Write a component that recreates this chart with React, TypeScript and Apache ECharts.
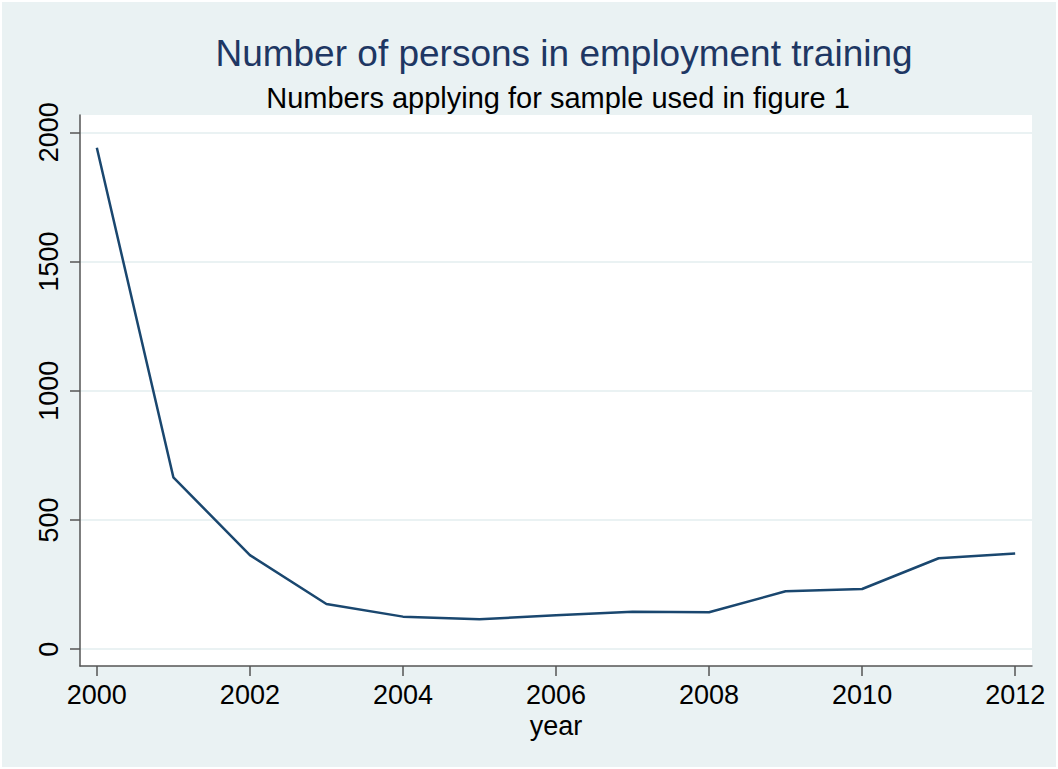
import React, { useEffect, useRef } from "react";
import * as echarts from "echarts";

const years = [2000, 2001, 2002, 2003, 2004, 2005, 2006, 2007, 2008, 2009, 2010, 2011, 2012];
const persons = [1940, 665, 364, 175, 126, 116, 131, 145, 143, 224, 233, 352, 370];
const xTicks = [2000, 2002, 2004, 2006, 2008, 2010, 2012];
const yTicks = [0, 500, 1000, 1500, 2000];

const titleText = "Number of persons in employment training";
const subtitleText = "Numbers applying for sample used in figure 1";
const xName = "year";

const FONT = "'Liberation Sans', Arial, sans-serif";

export default function App() {
  const ref = useRef<HTMLDivElement>(null);
  useEffect(() => {
    if (!ref.current) return;
    const chart = echarts.init(ref.current, null, { renderer: "svg" });
    chart.setOption({
      animation: false,
      backgroundColor: "#eaf2f3",
      title: [
        {
          text: titleText,
          left: 557,
          textAlign: "center",
          top: 28,
          textStyle: { fontFamily: FONT, fontSize: 37, fontWeight: "normal", color: "#1e3763" },
        },
        {
          text: subtitleText,
          left: 551,
          textAlign: "center",
          top: 76,
          textStyle: { fontFamily: FONT, fontSize: 29, fontWeight: "normal", color: "#000" },
        },
      ],
      grid: { left: 78, right: 24, top: 113, bottom: 101, show: true, backgroundColor: "#ffffff", borderWidth: 0 },
      xAxis: {
        type: "value",
        min: 1999.78,
        max: 2012.22,
        name: xName,
        nameLocation: "middle",
        nameGap: 44,
        nameTextStyle: { fontFamily: FONT, fontSize: 27, color: "#000" },
        axisLine: { show: true, onZero: false, lineStyle: { color: "#555", width: 1.5 } },
        axisTick: { show: true, length: 10, customValues: xTicks, lineStyle: { color: "#555", width: 1.5 } },
        axisLabel: { customValues: xTicks, margin: 15, fontFamily: FONT, fontSize: 27, color: "#000", formatter: (v: number) => String(v) },
        splitLine: { show: false },
      },
      yAxis: {
        type: "value",
        min: -65,
        max: 2067,
        axisLine: { show: true, onZero: false, lineStyle: { color: "#555", width: 1.5 } },
        axisTick: { show: true, length: 10, customValues: yTicks, lineStyle: { color: "#555", width: 1.5 } },
        axisLabel: { customValues: yTicks, margin: 18, rotate: 90, fontFamily: FONT, fontSize: 27, color: "#000", verticalAlign: "bottom", align: "center", formatter: (v: number) => String(v) },
        splitLine: { show: true, lineStyle: { color: "#eaf2f3", width: 2 } },
      },
      series: [
        {
          type: "line",
          data: years.map((y, i) => [y, persons[i]]),
          showSymbol: false,
          lineStyle: { color: "#1a476f", width: 2.5 },
          itemStyle: { color: "#1a476f" },
        },
      ],
    });
    return () => chart.dispose();
  }, []);
  return (
    <div style={{ position: "fixed", left: 0, top: 0, width: 1058, height: 769, background: "#fff" }}>
      <div ref={ref} style={{ position: "absolute", left: 2, top: 2, width: 1054, height: 765 }} />
    </div>
  );
}
